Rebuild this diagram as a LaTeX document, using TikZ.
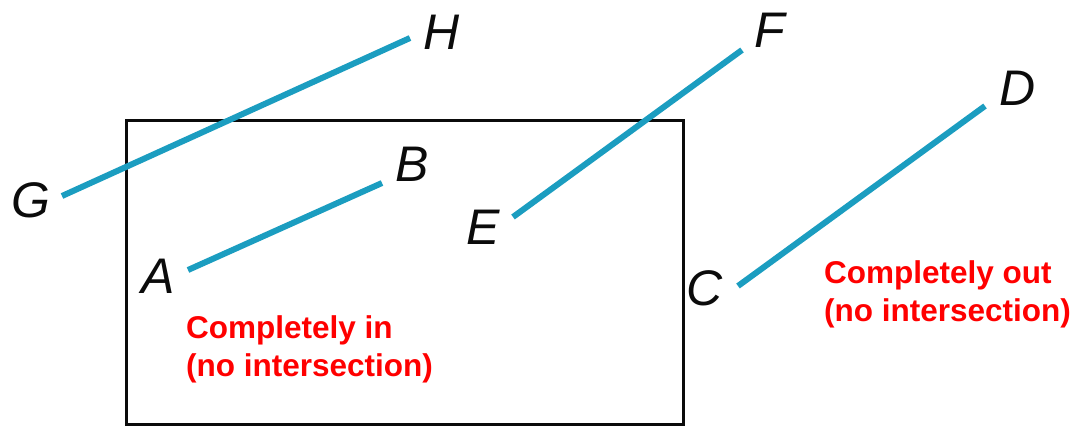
\documentclass[tikz,border=0pt]{standalone}
\usepackage{fontspec}
\setmainfont{Liberation Sans}
\usepackage{xcolor}
\usepackage{tikz}
\usetikzlibrary{positioning}
\definecolor{cSeg}{HTML}{1B9DC0}
\definecolor{cNote}{HTML}{FF0000}
\definecolor{cDark}{HTML}{0B0B0B}

\begin{document}
\begin{tikzpicture}[
  x=1pt, y=-1pt,
  seg/.style={draw=cSeg, line width=6pt},
  window/.style={draw=cDark, line width=3pt},
  lbl/.style={font=\fontsize{50}{50}\selectfont\itshape, text=cDark, inner sep=0pt},
  note/.style={font=\fontsize{31.5}{38}\selectfont\bfseries, text=cNote, align=left,
               anchor=north west, inner sep=0pt},
]
\useasboundingbox (0,0) rectangle (1074,426);
% ---- clip window
\draw[window] (126,120) rectangle (683,424);

% ---- end points
\coordinate (A) at (188,270);
\coordinate (B) at (382,183);
\coordinate (C) at (738,286);
\coordinate (D) at (985,106);
\coordinate (E) at (513,217);
\coordinate (F) at (742,50);
\coordinate (G) at (62,196);
\coordinate (H) at (410,38);

% ---- segments
\draw[seg] (A) -- (B);
\draw[seg] (C) -- (D);
\draw[seg] (E) -- (F);
\draw[seg] (G) -- (H);

% ---- letters
\node[lbl] (lA) at (158,276) {A};
\node[lbl] (lB) at (412,164) {B};
\node[lbl] (lC) at (705,288) {C};
\node[lbl] (lD) at (1018,88) {D};
\node[lbl] (lE) at (483,227) {E};
\node[lbl] (lF) at (770,30) {F};
\node[lbl] (lG) at (31,200) {G};
\node[lbl] (lH) at (442,32) {H};

% ---- notes
\node[note] (inNote) at (186,315) {Completely in\\(no intersection)};
\node[note] (outNote) at (824,260) {Completely out\\(no intersection)};
\end{tikzpicture}
\end{document}
